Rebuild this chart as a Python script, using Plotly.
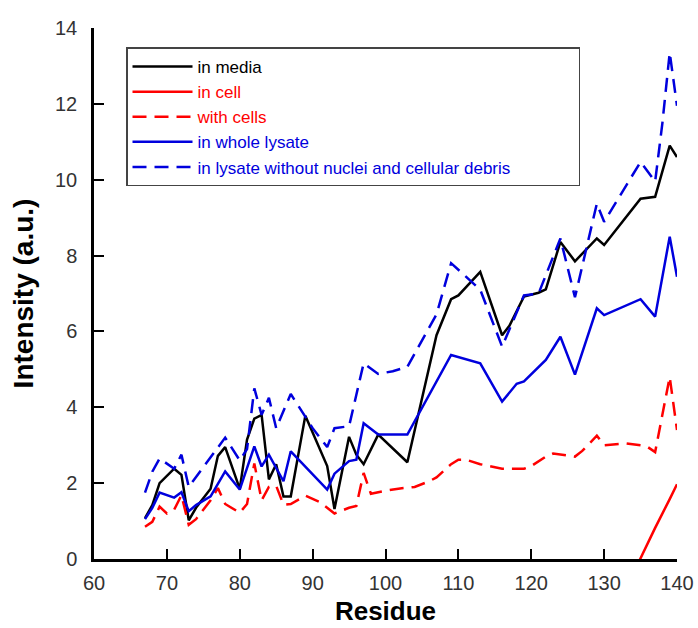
import plotly.graph_objects as go

# ---- data ----
res_media = [67, 68, 69, 70, 71, 72, 73, 74, 76, 77, 78, 80, 81, 82, 83, 84, 85, 86, 87, 89,
             92, 93, 95, 96, 97, 99, 103, 107, 109, 110, 113, 116, 117, 119, 121, 122, 124,
             126, 129, 130, 135, 137, 139, 140]
int_media = [1.08, 1.42, 2.0, 2.2, 2.38, 2.22, 1.02, 1.35, 1.85, 2.72, 2.95, 1.85, 3.15, 3.7,
             3.8, 2.1, 2.5, 1.65, 1.65, 3.78, 2.45, 1.32, 3.22, 2.75, 2.5, 3.28, 2.55, 5.9,
             6.85, 6.95, 7.57, 5.9, 6.15, 6.92, 7.02, 7.11, 8.36, 7.85, 8.45, 8.28, 9.5, 9.55,
             10.9, 10.6]

res_cell = [134, 135, 137, 139, 140]
int_cell = [-0.38, 0.03, 0.82, 1.58, 1.97]

res_with_cells = [67, 68, 69, 70, 71, 72, 73, 74, 76, 77, 78, 80, 81, 82, 83, 84, 85, 86, 87,
                  89, 91, 93, 95, 96, 97, 98, 100, 102, 104, 106, 107, 109, 110, 111, 113, 115,
                  116, 119, 120, 122, 123, 126, 127, 129, 130, 133, 135, 136, 137, 139, 140]
int_with_cells = [0.85, 0.98, 1.38, 1.2, 1.3, 1.68, 0.9, 1.05, 1.55, 1.87, 1.45, 1.22, 1.45,
                  2.52, 1.55, 1.9, 1.93, 1.43, 1.45, 1.67, 1.5, 1.2, 1.35, 1.4, 2.27, 1.72,
                  1.8, 1.86, 1.9, 2.05, 2.15, 2.5, 2.62, 2.62, 2.5, 2.43, 2.38, 2.38, 2.45,
                  2.7, 2.78, 2.7, 2.85, 3.25, 3.0, 3.05, 3.0, 2.95, 2.82, 4.8, 3.4]

res_whole = [67, 68, 69, 71, 72, 73, 74, 76, 78, 80, 82, 83, 84, 86, 87, 92, 93, 95, 96, 97,
             99, 103, 109, 113, 116, 118, 119, 122, 124, 126, 129, 130, 135, 137, 139, 140]
int_whole = [1.05, 1.35, 1.75, 1.62, 1.76, 1.26, 1.42, 1.65, 2.31, 1.83, 2.97, 2.44, 2.75,
             2.05, 2.84, 1.83, 2.25, 2.58, 2.62, 3.58, 3.28, 3.28, 5.38, 5.16, 4.15, 4.62,
             4.68, 5.25, 5.86, 4.86, 6.61, 6.43, 6.85, 6.39, 8.5, 7.44]

res_no_nuclei = [67, 68, 69, 71, 72, 73, 78, 80, 81, 82, 83, 84, 85, 87, 88, 90, 92, 93, 95,
                 97, 99, 101, 103, 105, 107, 109, 111, 113, 116, 119, 121, 124, 126, 129,
                 130, 135, 137, 138, 139, 140]
int_no_nuclei = [1.75, 2.3, 2.65, 2.38, 2.75, 1.9, 3.2, 2.6, 2.9, 4.5, 3.8, 4.25, 3.45, 4.35,
                 4.05, 3.45, 2.95, 3.45, 3.5, 5.16, 4.88, 4.95, 5.07, 5.75, 6.45, 7.8, 7.45,
                 7.1, 5.6, 6.95, 7.0, 8.45, 6.9, 9.37, 8.89, 10.47, 9.95, 11.5, 13.35, 11.95]

x_ticks = [60, 70, 80, 90, 100, 110, 120, 130, 140]
y_ticks = [0, 2, 4, 6, 8, 10, 12, 14]

BLACK = "#000000"
RED = "#FF0000"
BLUE = "#0000DD"
DASH = "14px,8px"
LW = 2.5

fig = go.Figure()
series = [
    (res_media, int_media, "in media", BLACK, "solid"),
    (res_cell, int_cell, "in cell", RED, "solid"),
    (res_with_cells, int_with_cells, "with cells", RED, DASH),
    (res_whole, int_whole, "in whole lysate", BLUE, "solid"),
    (res_no_nuclei, int_no_nuclei, "in lysate without nuclei and cellular debris", BLUE, DASH),
]
for xs, ys, name, col, dash in series:
    fig.add_trace(go.Scatter(
        x=xs, y=ys, mode="lines",
        name=f'<span style="color:{col}">{name}</span>',
        line=dict(color=col, width=LW, dash=dash),
    ))

FONT = "Liberation Sans, Arial, sans-serif"
axis_common = dict(
    showline=True, linewidth=2.5, linecolor="black",
    ticks="inside", ticklen=10, tickwidth=2, tickcolor="black",
    showgrid=False, zeroline=False, automargin=False,
    tickfont=dict(family=FONT, size=20, color="#333333"),
)

ITEMW = 60
fig.update_layout(
    width=698, height=628,
    margin=dict(l=94, r=21, t=27.5, b=68.5),
    plot_bgcolor="white", paper_bgcolor="white",
    showlegend=True,
    legend=dict(
        x=0.0549, y=0.9633, xanchor="left", yanchor="top",
        orientation="h", entrywidth=446 - (ITEMW + 10), entrywidthmode="pixels",
        bordercolor="#444444", borderwidth=1.5, bgcolor="white",
        font=dict(family=FONT, size=17, color="black"),
        itemwidth=ITEMW,
    ),
    xaxis=dict(
        range=[60, 140], tickvals=x_ticks, ticktext=[str(v) for v in x_ticks],
        ticklabelstandoff=4,
        title=dict(text="Residue", standoff=10,
                   font=dict(family=FONT, size=26, color="black", weight="bold")),
        **axis_common,
    ),
    yaxis=dict(
        range=[0, 14], tickvals=y_ticks, ticktext=[str(v) for v in y_ticks],
        ticklabelstandoff=10,
        title=dict(text="Intensity (a.u.)", standoff=14,
                   font=dict(family=FONT, size=28, color="black", weight="bold")),
        **axis_common,
    ),
)

fig.write_html("out.html")
